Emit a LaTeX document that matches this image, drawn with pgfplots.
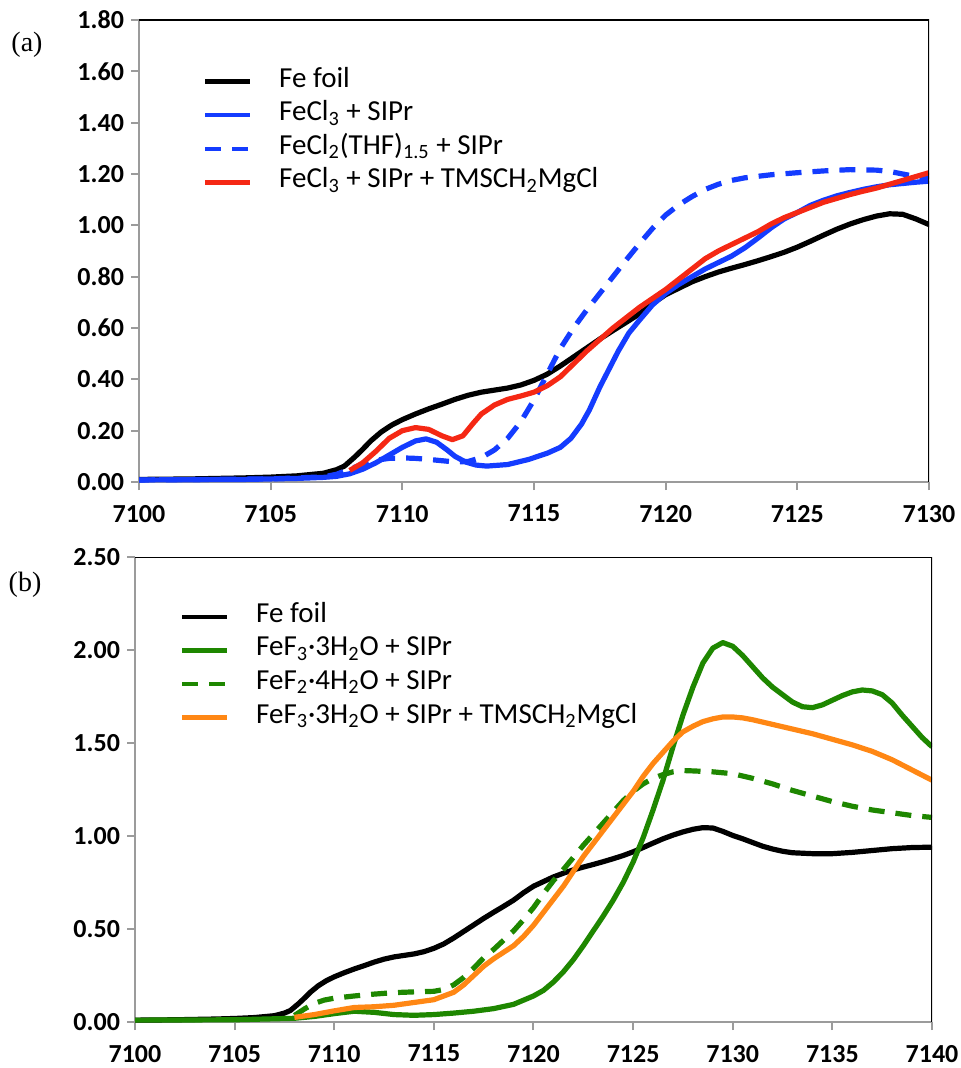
\documentclass[border=0pt]{standalone}
\usepackage{fontspec}
\setmainfont{Carlito}
\newfontfamily\timesfont{Liberation Serif}
\usepackage{pgfplots}
\usepackage{pgfplotstable}
\pgfplotsset{compat=1.18}

\definecolor{cblue}{RGB}{20,60,255}
\definecolor{cred}{RGB}{245,40,20}
\definecolor{cgreen}{RGB}{30,135,0}
\definecolor{corange}{RGB}{255,135,20}
\definecolor{axgray}{RGB}{155,155,155}

% Fe foil reference, used in both panels
\pgfplotstableread{
x y
7100 0.010
7102 0.012
7104 0.016
7105 0.019
7106 0.024
7107 0.034
7107.5 0.048
7107.8 0.062
7108.2 0.098
7108.5 0.128
7108.8 0.160
7109.2 0.195
7109.6 0.222
7110 0.243
7110.5 0.265
7111 0.285
7111.5 0.303
7112 0.322
7112.5 0.338
7113 0.350
7113.5 0.358
7114 0.366
7114.5 0.378
7115 0.396
7115.5 0.420
7116 0.452
7116.5 0.487
7117 0.522
7117.5 0.557
7118 0.590
7118.5 0.622
7119 0.655
7119.5 0.695
7120 0.730
7120.5 0.755
7121 0.780
7121.5 0.800
7122 0.818
7122.5 0.833
7123 0.847
7123.5 0.862
7124 0.878
7124.5 0.895
7125 0.915
7125.5 0.938
7126 0.962
7126.5 0.985
7127 1.005
7127.5 1.022
7128 1.036
7128.5 1.045
7129 1.043
7129.5 1.025
7130 1.003
7130.5 0.985
7131 0.965
7131.5 0.945
7132 0.930
7132.5 0.918
7133 0.910
7134 0.905
7135 0.905
7136 0.912
7137 0.922
7138 0.932
7139 0.938
7140 0.940
}\fefoil

\pgfplotstableread{
x y
7100 0.008
7104 0.010
7106 0.014
7107 0.018
7107.5 0.022
7108 0.032
7108.5 0.050
7109 0.075
7109.5 0.105
7110 0.135
7110.5 0.160
7110.9 0.168
7111.3 0.155
7111.7 0.125
7112 0.100
7112.4 0.078
7112.8 0.066
7113.2 0.062
7114 0.068
7114.8 0.088
7115.5 0.112
7116 0.135
7116.4 0.170
7116.8 0.225
7117.1 0.280
7117.5 0.370
7117.8 0.430
7118.2 0.510
7118.6 0.580
7119 0.630
7119.5 0.690
7120 0.735
7120.5 0.770
7121 0.800
7121.5 0.830
7122 0.855
7122.5 0.880
7123 0.912
7123.5 0.950
7124 0.990
7124.5 1.025
7125 1.050
7125.5 1.078
7126 1.098
7126.5 1.115
7127 1.128
7127.5 1.140
7128 1.150
7128.5 1.158
7129 1.163
7129.5 1.168
7130 1.172
}\fecl

\pgfplotstableread{
x y
7100 0.008
7105 0.012
7107 0.020
7107.5 0.030
7108 0.050
7108.5 0.070
7109 0.085
7109.5 0.092
7110 0.094
7110.5 0.092
7111 0.088
7111.5 0.083
7112 0.078
7112.5 0.080
7113 0.095
7113.5 0.125
7114 0.170
7114.5 0.235
7115 0.320
7115.5 0.420
7116 0.520
7116.5 0.600
7117 0.670
7117.5 0.735
7118 0.800
7118.5 0.865
7119 0.928
7119.5 0.988
7120 1.040
7120.5 1.080
7121 1.112
7121.5 1.140
7122 1.160
7122.5 1.175
7123 1.185
7124 1.197
7125 1.205
7126 1.212
7127 1.217
7128 1.215
7128.5 1.210
7129 1.200
7129.5 1.190
7130 1.180
}\fecltwo

\pgfplotstableread{
x y
7108 0.045
7108.5 0.075
7109 0.120
7109.5 0.170
7110 0.200
7110.5 0.212
7111 0.205
7111.5 0.180
7111.9 0.165
7112.3 0.180
7112.7 0.230
7113 0.265
7113.5 0.300
7114 0.322
7114.5 0.335
7115 0.350
7115.5 0.375
7116 0.410
7116.5 0.460
7117 0.510
7117.5 0.555
7118 0.600
7118.5 0.640
7119 0.680
7119.5 0.715
7120 0.750
7120.5 0.790
7121 0.830
7121.5 0.870
7122 0.900
7122.5 0.925
7123 0.950
7123.5 0.975
7124 1.005
7124.5 1.030
7125 1.050
7125.5 1.070
7126 1.090
7126.5 1.105
7127 1.120
7127.5 1.133
7128 1.145
7128.5 1.160
7129 1.175
7129.5 1.190
7130 1.205
}\feclgrig

\pgfplotstableread{
x y
7100 0.010
7105 0.012
7108 0.020
7109 0.030
7110 0.045
7111 0.058
7112 0.052
7113 0.040
7114 0.036
7115 0.040
7116 0.048
7117 0.058
7118 0.072
7119 0.095
7120 0.140
7120.5 0.170
7121 0.215
7121.5 0.270
7122 0.335
7122.5 0.410
7123 0.490
7123.5 0.570
7124 0.655
7124.5 0.750
7125 0.860
7125.5 0.990
7126 1.140
7126.5 1.300
7127 1.480
7127.5 1.650
7128 1.800
7128.5 1.930
7129 2.010
7129.5 2.040
7130 2.020
7130.5 1.970
7131 1.910
7131.5 1.850
7132 1.800
7132.5 1.760
7133 1.720
7133.5 1.695
7134 1.690
7134.5 1.705
7135 1.730
7135.5 1.755
7136 1.775
7136.5 1.785
7137 1.780
7137.5 1.760
7138 1.715
7138.5 1.650
7139 1.590
7139.5 1.530
7140 1.480
}\fef

\pgfplotstableread{
x y
7108 0.035
7108.5 0.070
7109 0.100
7109.5 0.118
7110 0.128
7111 0.140
7112 0.150
7113 0.158
7114 0.162
7115 0.165
7115.5 0.175
7116 0.200
7116.5 0.240
7117 0.290
7117.5 0.345
7118 0.390
7118.5 0.440
7119 0.490
7119.5 0.550
7120 0.615
7120.5 0.690
7121 0.760
7121.5 0.820
7122 0.885
7122.5 0.950
7123 1.010
7123.5 1.070
7124 1.130
7124.5 1.190
7125 1.240
7125.5 1.280
7126 1.310
7126.5 1.330
7127 1.345
7127.5 1.352
7128 1.350
7129 1.345
7130 1.335
7131 1.310
7132 1.280
7133 1.245
7134 1.215
7135 1.185
7136 1.160
7137 1.140
7138 1.125
7139 1.110
7140 1.100
}\feftwo

\pgfplotstableread{
x y
7108 0.025
7109 0.040
7110 0.060
7111 0.078
7112 0.082
7113 0.090
7114 0.105
7115 0.120
7116 0.160
7116.5 0.200
7117 0.250
7117.5 0.300
7118 0.340
7118.5 0.375
7119 0.410
7119.5 0.460
7120 0.520
7120.5 0.590
7121 0.660
7121.5 0.730
7122 0.810
7122.5 0.890
7123 0.960
7123.5 1.030
7124 1.100
7124.5 1.170
7125 1.240
7125.5 1.320
7126 1.390
7126.5 1.450
7127 1.510
7127.5 1.560
7128 1.590
7128.5 1.615
7129 1.630
7129.5 1.640
7130 1.640
7130.5 1.635
7131 1.625
7132 1.600
7133 1.575
7134 1.550
7135 1.520
7136 1.490
7137 1.455
7138 1.410
7139 1.355
7140 1.300
}\fefgrig

\pgfplotsset{
  xanes/.style={
    scale only axis,
    axis x line*=bottom, axis y line*=left,
    axis line style={axgray, line width=1pt},
    every tick/.style={axgray, line width=1pt},
    tick align=outside,
    major tick length=4pt,
    xtick distance=5,
    scaled ticks=false,
    tick label style={font=\fontsize{13}{13}\selectfont\bfseries},
    /pgf/number format/assume math mode=true,
    xticklabel style={yshift=-4pt, /pgf/number format/.cd, fixed, precision=0, 1000 sep={}},
    yticklabel style={/pgf/number format/.cd, fixed, fixed zerofill, precision=2},
    legend cell align=left,
    legend style={draw=none, fill=none, inner sep=0pt, outer sep=0pt,
      row sep=0pt, column sep=0pt,
      font=\fontsize{14.5}{17}\selectfont,
      nodes={inner sep=0pt, text height=9.5pt, text depth=4pt}},
    legend image code/.code={
      \draw[##1, line width=2.2pt] (0pt,0pt) -- (22.5pt,0pt);
      \path[draw=none, fill=none] (0pt,-8.4pt) rectangle (37pt,8.4pt);},
    every axis plot/.append style={line width=2.6pt, line join=round},
    dash/.style={dash pattern=on 8pt off 5.5pt},
  }
}

\begin{document}
\begin{tikzpicture}
\useasboundingbox (0,0) rectangle (480pt,-534pt);

\begin{axis}[xanes,
  at={(69.5pt,-241pt)}, anchor=south west,
  width=395pt, height=231pt,
  xmin=7100, xmax=7130, ymin=0, ymax=1.8,
  ytick distance=0.2,
  legend style={at={(0.081,0.903)}, anchor=north west},
]
\addplot[black] table {\fefoil};
\addlegendentry{Fe foil}
\addplot[cblue] table {\fecl};
\addlegendentry{FeCl\textsubscript{3} + SIPr}
\addplot[cblue, dash] table {\fecltwo};
\addlegendentry{FeCl\textsubscript{2}(THF)\textsubscript{1.5} + SIPr}
\addplot[cred] table {\feclgrig};
\addlegendentry{FeCl\textsubscript{3} + SIPr + TMSCH\textsubscript{2}MgCl}
\draw[black, line width=0.9pt] (rel axis cs:0,1) -- (rel axis cs:1,1) -- (rel axis cs:1,0);
\end{axis}

\begin{axis}[xanes,
  at={(67.5pt,-511pt)}, anchor=south west,
  width=398.5pt, height=232.5pt,
  xmin=7100, xmax=7140, ymin=0, ymax=2.5,
  ytick distance=0.5,
  legend style={at={(0.0565,0.9075)}, anchor=north west},
]
\addplot[black] table {\fefoil};
\addlegendentry{Fe foil}
\addplot[cgreen] table {\fef};
\addlegendentry{FeF\textsubscript{3}·3H\textsubscript{2}O + SIPr}
\addplot[cgreen, dash] table {\feftwo};
\addlegendentry{FeF\textsubscript{2}·4H\textsubscript{2}O + SIPr}
\addplot[corange] table {\fefgrig};
\addlegendentry{FeF\textsubscript{3}·3H\textsubscript{2}O + SIPr + TMSCH\textsubscript{2}MgCl}
\draw[black, line width=0.9pt] (rel axis cs:0,1) -- (rel axis cs:1,1) -- (rel axis cs:1,0);
\end{axis}

\node[font=\timesfont\fontsize{14}{14}\selectfont] at (13.5pt,-22.5pt) {(a)};
\node[font=\timesfont\fontsize{14}{14}\selectfont] at (12.5pt,-292.5pt) {(b)};
\end{tikzpicture}
\end{document}
